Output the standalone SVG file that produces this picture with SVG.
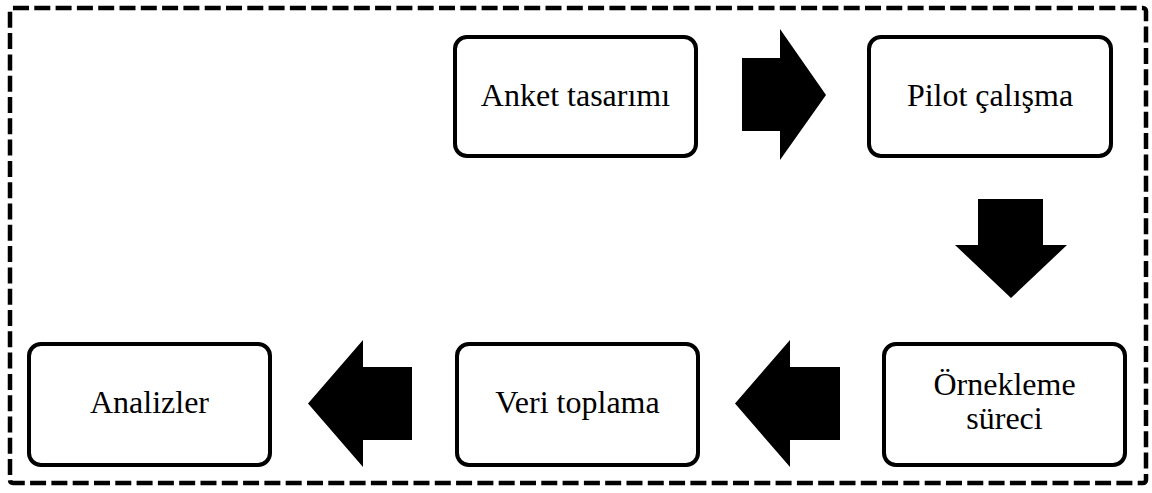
<svg xmlns="http://www.w3.org/2000/svg" width="1152" height="493" viewBox="0 0 1152 493">
  <style>
    .frame { fill: none; stroke: #000; stroke-width: 4.5; stroke-dasharray: 16 5.3; }
    .box { fill: #fff; stroke: #000; stroke-width: 4; }
    .label { font-family: "Liberation Serif", "Times New Roman", serif; font-size: 32px; fill: #000; text-anchor: middle; }
    .arrow { fill: #000; stroke: none; }
  </style>
  <rect width="1152" height="493" fill="#fff"/>

  <!-- dashed outer frame -->
  <rect class="frame" x="10" y="8" width="1136" height="475" rx="3"/>

  <g id="node-anket">
    <rect class="box" x="455" y="37" width="241" height="119" rx="12"/>
    <text class="label" x="575.5" y="106">Anket tasarımı</text>
  </g>

  <g id="node-pilot">
    <rect class="box" x="869" y="37" width="242" height="119" rx="12"/>
    <text class="label" x="990" y="106">Pilot çalışma</text>
  </g>

  <g id="node-orneklem">
    <rect class="box" x="884" y="344" width="241" height="121" rx="12"/>
    <text class="label" x="1004.5" y="395">Örnekleme</text>
    <text class="label" x="1004.5" y="429">süreci</text>
  </g>

  <g id="node-veri">
    <rect class="box" x="457" y="344" width="241" height="121" rx="12"/>
    <text class="label" x="577.5" y="413">Veri toplama</text>
  </g>

  <g id="node-analiz">
    <rect class="box" x="29" y="344" width="241" height="121" rx="12"/>
    <text class="label" x="149.5" y="413">Analizler</text>
  </g>

  <!-- block arrows between steps -->
  <g id="connectors">
    <polygon class="arrow" points="742,58 780,58 780,29 826,95 780,160 780,131 742,131"/>
    <polygon class="arrow" points="978,199 1043,199 1043,245 1067,245 1011,298 955,245 978,245"/>
    <polygon class="arrow" points="840,367 790,367 790,340 735,403.5 790,467 790,440 840,440"/>
    <polygon class="arrow" points="412,367 363,367 363,340 308,403.5 363,467 363,440 412,440"/>
  </g>
</svg>
